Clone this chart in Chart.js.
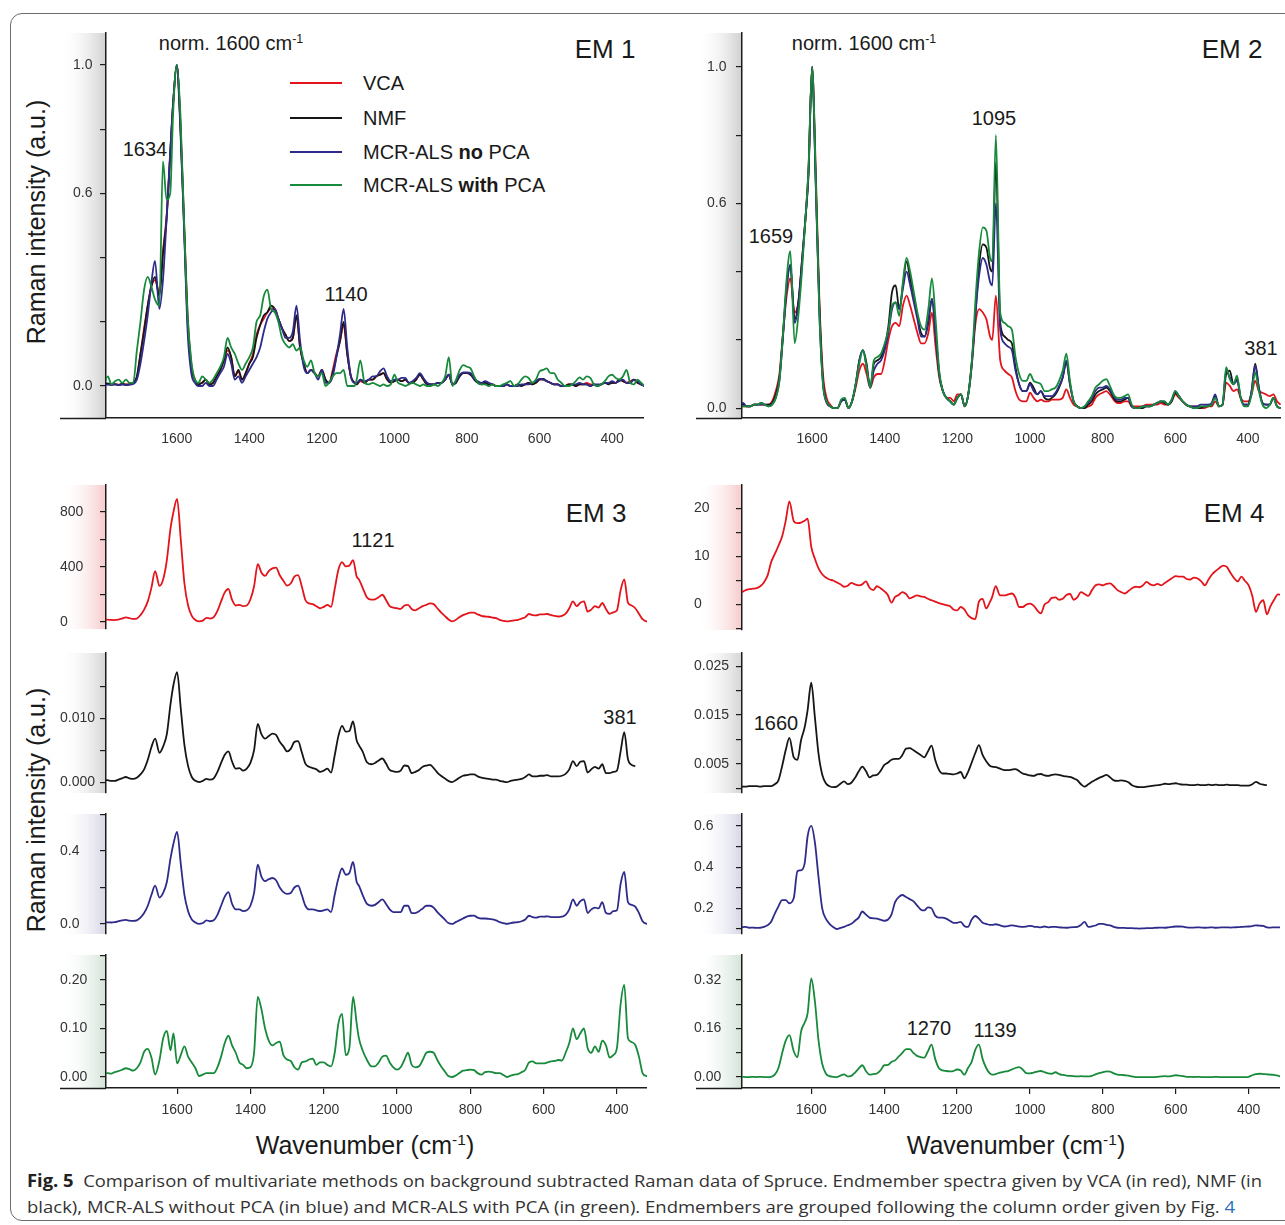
<!DOCTYPE html>
<html>
<head>
<meta charset="utf-8">
<title>Fig. 5 - endmember spectra</title>
<script src="https://cdn.jsdelivr.net/npm/chart.js@4.4.1/dist/chart.umd.min.js"></script>
<style>
  html, body { margin: 0; padding: 0; background: #fff; }
  body { position: relative; width: 1285px; height: 1225px; overflow: hidden;
         font-family: "Liberation Sans", Arial, sans-serif; color: #1a1a1a; }
  .frame { position: absolute; left: 10px; top: 13px; width: 1300px; height: 1208px;
           border: 1px solid #6b6b6b; border-radius: 12px; box-sizing: border-box; }
  canvas { position: absolute; }
  .lbl { position: absolute; white-space: nowrap; line-height: 1; transform: translate(-50%, -50%); }
  .lbl sup, .ytitle sup { font-size: 0.62em; vertical-align: 0.55em; line-height: 0; }
  .ytitle { position: absolute; white-space: nowrap; line-height: 1; font-size: 25px;
            transform: translate(-50%, -50%) rotate(-90deg); }
  .legend { position: absolute; left: 290px; top: 70px; font-size: 20px; }
  .legend div { position: absolute; left: 0; white-space: nowrap; height: 24px; }
  .legend i { position: absolute; left: 0; top: 11px; width: 52px; height: 2px; }
  .legend span { position: absolute; left: 73px; top: 0; line-height: 24px; }
  .caption { position: absolute; left: 27px; font-family: "Open Sans", sans-serif; font-size: 17px;
             color: #333; white-space: nowrap; transform-origin: 0 50%; line-height: 1; }
  .caption b { color: #222; }
  .caption a { color: #2a6ebb; text-decoration: none; }
</style>
</head>
<body>
<div class="frame"></div>

<!-- peak / panel annotations -->
<div class="lbl" style="left:231px;top:43px;font-size:20px">norm. 1600 cm<sup>-1</sup></div>
<div class="lbl" style="left:864px;top:43px;font-size:20px">norm. 1600 cm<sup>-1</sup></div>
<div class="lbl" style="left:605px;top:49px;font-size:26px">EM 1</div>
<div class="lbl" style="left:1232px;top:49px;font-size:26px">EM 2</div>
<div class="lbl" style="left:596px;top:513px;font-size:26px">EM 3</div>
<div class="lbl" style="left:1234px;top:513px;font-size:26px">EM 4</div>
<div class="lbl" style="left:145px;top:149px;font-size:20px">1634</div>
<div class="lbl" style="left:346px;top:294px;font-size:20px">1140</div>
<div class="lbl" style="left:771px;top:236px;font-size:20px">1659</div>
<div class="lbl" style="left:994px;top:118px;font-size:20px">1095</div>
<div class="lbl" style="left:1261px;top:348px;font-size:20px">381</div>
<div class="lbl" style="left:373px;top:540px;font-size:20px">1121</div>
<div class="lbl" style="left:620px;top:717px;font-size:20px">381</div>
<div class="lbl" style="left:776px;top:723px;font-size:20px">1660</div>
<div class="lbl" style="left:929px;top:1028px;font-size:20px">1270</div>
<div class="lbl" style="left:995px;top:1030px;font-size:20px">1139</div>

<div class="legend">
  <div style="top:1px"><i style="background:#e3141b"></i><span>VCA</span></div>
  <div style="top:36px"><i style="background:#161616"></i><span>NMF</span></div>
  <div style="top:70px"><i style="background:#2e2b8b"></i><span>MCR-ALS <b>no</b> PCA</span></div>
  <div style="top:103px"><i style="background:#178a3b"></i><span>MCR-ALS <b>with</b> PCA</span></div>
</div>

<div class="ytitle" style="left:36px;top:222px">Raman intensity (a.u.)</div>
<div class="ytitle" style="left:36px;top:810px">Raman intensity (a.u.)</div>
<div class="lbl" style="left:365px;top:1145px;font-size:25px">Wavenumber (cm<sup>-1</sup>)</div>
<div class="lbl" style="left:1016px;top:1145px;font-size:25px">Wavenumber (cm<sup>-1</sup>)</div>

<div class="caption" data-width="1235" style="top:1180px"><b>Fig. 5</b>&nbsp; Comparison of multivariate methods on background subtracted Raman data of Spruce. Endmember spectra given by VCA (in red), NMF (in</div>
<div class="caption" data-width="1208" style="top:1206px">black), MCR-ALS without PCA (in blue) and MCR-ALS with PCA (in green). Endmembers are grouped following the column order given by Fig. <a>4</a></div>

<script>
// wavenumber grid (cm-1), shared by every spectrum
const wavenumbers = [
  1800, 1790, 1780, 1770, 1760, 1750, 1740, 1730, 1720, 1710,
  1700, 1690, 1680, 1670, 1660, 1648, 1638, 1628, 1618, 1610,
  1600, 1590, 1580, 1570, 1560, 1550, 1540, 1530, 1520, 1510,
  1500, 1490, 1480, 1470, 1460, 1450, 1440, 1430, 1420, 1410,
  1400, 1390, 1380, 1370, 1360, 1350, 1340, 1330, 1320, 1310,
  1300, 1290, 1280, 1270, 1260, 1250, 1240, 1230, 1220, 1210,
  1200, 1190, 1180, 1170, 1160, 1150, 1140, 1130, 1120, 1110,
  1104, 1094, 1082, 1070, 1060, 1050, 1040, 1030, 1020, 1010,
  1000, 990, 980, 970, 960, 950, 940, 930, 920, 910,
  900, 890, 880, 870, 860, 850, 840, 830, 820, 810,
  800, 790, 780, 770, 760, 750, 740, 730, 720, 710,
  700, 690, 680, 670, 660, 650, 640, 630, 620, 610,
  600, 590, 580, 570, 560, 550, 540, 530, 520, 510,
  500, 490, 480, 470, 460, 450, 440, 430, 420, 410,
  400, 390, 380, 370, 360, 350, 340, 330, 320, 310
];

const xTickValues = [1600, 1400, 1200, 1000, 800, 600, 400];

// EM 1 (normalised to the 1600 band)
const em1Vca = [
  0.004, 0.006, 0.005, 0.005, 0.004, 0.006, 0.005, 0.006, 0.01, 0.025,
  0.10, 0.18, 0.25, 0.31, 0.33, 0.29, 0.42, 0.53, 0.72, 0.88,
  1.0, 0.82, 0.52, 0.22, 0.07, 0.02, 0.005, 0.01, 0.02, 0.005,
  0.01, 0.03, 0.05, 0.08, 0.11, 0.09, 0.03, 0.045, 0.02, 0.04,
  0.07, 0.10, 0.16, 0.19, 0.21, 0.23, 0.24, 0.24, 0.21, 0.18,
  0.16, 0.14, 0.15, 0.22, 0.12, 0.07, 0.04, 0.05, 0.04, 0.03,
  0.05, 0.02, 0.01, 0.05, 0.10, 0.14, 0.19, 0.10, 0.03, 0.01,
  0.005, 0.015, 0.01, 0.02, 0.02, 0.03, 0.035, 0.04, 0.02, 0.01,
  0.015, 0.02, 0.015, 0.02, 0.01, 0.01, 0.02, 0.035, 0.02, 0.005,
  0.005, 0.005, 0.01, 0.01, 0.02, 0.035, 0.005, 0.015, 0.035, 0.04,
  0.04, 0.035, 0.025, 0.01, 0.005, 0.01, 0.005, 0.005, 0.0, 0.0,
  0.0, 0.005, 0.0, 0.0, 0.005, 0.0, 0.005, 0.01, 0.005, 0.01,
  0.02, 0.02, 0.015, 0.01, 0.005, 0.005, 0.0, 0.0, 0.005, 0.005,
  0.0, 0.005, 0.005, 0.01, 0.005, 0.005, 0.0, 0.005, 0.01, 0.01,
  0.01, 0.01, 0.02, 0.015, 0.01, 0.015, 0.02, 0.01, 0.005, 0.0
];
const em1Nmf = [
  0.005, 0.008, 0.004, 0.006, 0.003, 0.007, 0.004, 0.005, 0.01, 0.03,
  0.10, 0.17, 0.25, 0.31, 0.34, 0.28, 0.41, 0.52, 0.72, 0.88,
  1.0, 0.80, 0.50, 0.20, 0.06, 0.02, 0.005, 0.01, 0.02, 0.005,
  0.01, 0.03, 0.05, 0.08, 0.12, 0.09, 0.03, 0.05, 0.02, 0.04,
  0.07, 0.09, 0.15, 0.19, 0.22, 0.23, 0.25, 0.24, 0.21, 0.18,
  0.16, 0.14, 0.15, 0.22, 0.12, 0.07, 0.04, 0.05, 0.04, 0.03,
  0.05, 0.02, 0.01, 0.04, 0.09, 0.14, 0.20, 0.10, 0.03, 0.01,
  0.005, 0.02, 0.01, 0.02, 0.02, 0.03, 0.035, 0.04, 0.02, 0.01,
  0.015, 0.02, 0.015, 0.02, 0.01, 0.01, 0.02, 0.035, 0.02, 0.005,
  0.005, 0.005, 0.01, 0.01, 0.02, 0.035, 0.005, 0.01, 0.03, 0.04,
  0.04, 0.035, 0.02, 0.01, 0.005, 0.01, 0.005, 0.005, 0.0, 0.0,
  0.0, 0.005, 0.0, 0.0, 0.005, 0.0, 0.005, 0.01, 0.005, 0.01,
  0.02, 0.022, 0.015, 0.01, 0.005, 0.005, 0.0, 0.0, 0.005, 0.005,
  0.0, 0.005, 0.005, 0.005, 0.0, 0.005, 0.0, 0.005, 0.01, 0.005,
  0.01, 0.01, 0.02, 0.015, 0.01, 0.01, 0.02, 0.01, 0.005, 0.0
];
const em1McrNoPca = [
  0.003, 0.004, 0.003, 0.005, 0.003, 0.004, 0.003, 0.004, 0.006, 0.02,
  0.07, 0.14, 0.22, 0.32, 0.39, 0.24, 0.33, 0.52, 0.73, 0.88,
  1.0, 0.82, 0.50, 0.17, 0.04, 0.01, 0.0, 0.0, 0.01, 0.0,
  0.0, 0.02, 0.04, 0.06, 0.10, 0.07, 0.02, 0.03, 0.01, 0.03,
  0.05, 0.07, 0.09, 0.12, 0.17, 0.21, 0.23, 0.24, 0.21, 0.18,
  0.15, 0.15, 0.17, 0.25, 0.14, 0.06, 0.04, 0.05, 0.04, 0.02,
  0.05, 0.01, 0.01, 0.03, 0.09, 0.16, 0.24, 0.12, 0.03, 0.01,
  0.01, 0.02, 0.015, 0.02, 0.03, 0.03, 0.045, 0.055, 0.03, 0.015,
  0.02, 0.02, 0.025, 0.025, 0.01, 0.015, 0.025, 0.04, 0.025, 0.01,
  0.005, 0.005, 0.01, 0.01, 0.02, 0.035, 0.005, 0.015, 0.035, 0.042,
  0.042, 0.04, 0.022, 0.015, 0.01, 0.015, 0.01, 0.005, 0.0, 0.0,
  0.0, 0.005, 0.0, 0.0, 0.0, 0.005, 0.005, 0.005, 0.01, 0.015,
  0.022, 0.02, 0.015, 0.01, 0.005, 0.005, 0.0, 0.0, 0.0, 0.005,
  0.005, 0.01, 0.005, 0.005, 0.0, 0.005, 0.005, 0.005, 0.01, 0.01,
  0.015, 0.01, 0.015, 0.02, 0.01, 0.01, 0.02, 0.015, 0.005, 0.0
];
const em1McrPca = [
  0.01, 0.03, 0.005, 0.015, 0.02, 0.01, 0.02, 0.01, 0.01, 0.11,
  0.20, 0.30, 0.34, 0.31, 0.27, 0.25, 0.70, 0.58, 0.60, 0.85,
  1.0, 0.85, 0.52, 0.22, 0.08, 0.02, 0.01, 0.03, 0.02, 0.01,
  0.02, 0.04, 0.06, 0.09, 0.15, 0.12, 0.10, 0.07, 0.05, 0.07,
  0.09, 0.12, 0.20, 0.22, 0.28, 0.30, 0.24, 0.23, 0.20, 0.15,
  0.13, 0.12, 0.13, 0.11, 0.12, 0.08, 0.06, 0.08, 0.04, 0.03,
  0.04, 0.0, 0.01, 0.03, 0.04, 0.04, 0.05, 0.0, 0.0, 0.0,
  0.02, 0.08, 0.01, 0.005, 0.01, 0.005, 0.0, 0.005, 0.0, 0.005,
  0.035, 0.01, 0.005, 0.0, 0.005, 0.01, 0.005, 0.0, 0.005, 0.0,
  0.0, 0.005, 0.0, 0.01, 0.03, 0.09, 0.0, 0.02, 0.05, 0.065,
  0.06, 0.055, 0.03, 0.01, 0.005, 0.005, 0.0, 0.005, 0.0, 0.0,
  0.005, 0.01, 0.015, 0.0, 0.005, 0.02, 0.03, 0.025, 0.01, 0.02,
  0.045, 0.05, 0.055, 0.04, 0.04, 0.02, 0.01, 0.0, 0.0, 0.005,
  0.015, 0.027, 0.02, 0.03, 0.025, 0.005, 0.0, 0.005, 0.015, 0.03,
  0.035, 0.025, 0.02, 0.03, 0.05, 0.01, 0.005, 0.02, 0.01, 0.0
];

// EM 2 (normalised to the 1600 band)
const em2Vca = [
  0.005, 0.005, 0.005, 0.005, 0.01, 0.01, 0.01, 0.01, 0.01, 0.02,
  0.05, 0.10, 0.22, 0.33, 0.38, 0.28, 0.31, 0.43, 0.56, 0.70,
  1.0, 0.70, 0.32, 0.10, 0.03, 0.01, 0.0, 0.0, 0.02, 0.025,
  0.0, 0.02, 0.06, 0.11, 0.13, 0.10, 0.06, 0.09, 0.10, 0.10,
  0.14, 0.20, 0.24, 0.25, 0.24, 0.30, 0.33, 0.30, 0.26, 0.22,
  0.19, 0.19, 0.22, 0.28, 0.18, 0.09, 0.05, 0.03, 0.03, 0.02,
  0.04, 0.04, 0.005, 0.04, 0.13, 0.25, 0.29, 0.28, 0.26, 0.21,
  0.20, 0.33, 0.14, 0.11, 0.10, 0.09, 0.05, 0.025, 0.02, 0.02,
  0.045, 0.03, 0.02, 0.025, 0.02, 0.02, 0.025, 0.025, 0.025, 0.03,
  0.055, 0.03, 0.01, 0.005, 0.0, 0.0, 0.005, 0.01, 0.03, 0.04,
  0.045, 0.05, 0.04, 0.025, 0.015, 0.015, 0.02, 0.02, 0.005, 0.005,
  0.005, 0.005, 0.01, 0.01, 0.01, 0.01, 0.015, 0.01, 0.01, 0.02,
  0.04, 0.03, 0.02, 0.01, 0.005, 0.005, 0.005, 0.0, 0.0, 0.005,
  0.005, 0.02, 0.005, 0.01, 0.075, 0.065, 0.05, 0.055, 0.03, 0.02,
  0.02, 0.04, 0.08, 0.05, 0.045, 0.04, 0.035, 0.04, 0.02, 0.01
];
const em2Nmf = [
  0.005, 0.01, 0.005, 0.005, 0.01, 0.01, 0.015, 0.01, 0.01, 0.015,
  0.04, 0.09, 0.22, 0.36, 0.42, 0.26, 0.31, 0.43, 0.56, 0.68,
  1.0, 0.66, 0.30, 0.08, 0.02, 0.005, 0.0, 0.0, 0.02, 0.025,
  0.0, 0.02, 0.07, 0.14, 0.17, 0.13, 0.06, 0.13, 0.14, 0.15,
  0.18, 0.24, 0.34, 0.36, 0.29, 0.36, 0.43, 0.38, 0.33, 0.27,
  0.22, 0.21, 0.25, 0.32, 0.22, 0.10, 0.05, 0.03, 0.02, 0.01,
  0.03, 0.04, 0.005, 0.04, 0.14, 0.28, 0.42, 0.48, 0.47, 0.41,
  0.40, 0.72, 0.25, 0.21, 0.20, 0.19, 0.12, 0.07, 0.05, 0.05,
  0.075, 0.06, 0.04, 0.05, 0.03, 0.025, 0.03, 0.04, 0.06, 0.09,
  0.135, 0.07, 0.02, 0.005, 0.0, 0.0, 0.01, 0.02, 0.04, 0.05,
  0.055, 0.06, 0.05, 0.03, 0.02, 0.02, 0.025, 0.03, 0.005, 0.0,
  0.0, 0.0, 0.005, 0.005, 0.01, 0.015, 0.02, 0.015, 0.01, 0.02,
  0.045, 0.035, 0.02, 0.01, 0.005, 0.0, 0.0, 0.0, 0.005, 0.005,
  0.01, 0.035, 0.005, 0.01, 0.10, 0.11, 0.07, 0.085, 0.03, 0.01,
  0.01, 0.05, 0.13, 0.06, 0.015, 0.01, 0.01, 0.03, 0.005, 0.0
];
const em2McrNoPca = [
  0.005, 0.015, 0.005, 0.005, 0.01, 0.01, 0.01, 0.01, 0.005, 0.01,
  0.03, 0.08, 0.21, 0.35, 0.42, 0.25, 0.30, 0.42, 0.56, 0.69,
  1.0, 0.66, 0.28, 0.07, 0.015, 0.005, 0.0, 0.0, 0.02, 0.025,
  0.0, 0.02, 0.07, 0.14, 0.17, 0.12, 0.06, 0.11, 0.13, 0.14,
  0.17, 0.22, 0.29, 0.31, 0.29, 0.35, 0.40, 0.36, 0.31, 0.26,
  0.21, 0.21, 0.26, 0.32, 0.22, 0.10, 0.05, 0.03, 0.02, 0.01,
  0.03, 0.04, 0.005, 0.04, 0.13, 0.28, 0.39, 0.44, 0.42, 0.37,
  0.36, 0.60, 0.23, 0.19, 0.18, 0.17, 0.11, 0.07, 0.05, 0.05,
  0.07, 0.05, 0.04, 0.05, 0.035, 0.035, 0.035, 0.045, 0.065, 0.09,
  0.14, 0.07, 0.02, 0.005, 0.0, 0.005, 0.015, 0.03, 0.05, 0.06,
  0.06, 0.065, 0.055, 0.035, 0.025, 0.025, 0.03, 0.03, 0.005, 0.0,
  0.0, 0.005, 0.005, 0.005, 0.01, 0.015, 0.02, 0.02, 0.01, 0.025,
  0.05, 0.035, 0.02, 0.01, 0.005, 0.005, 0.005, 0.01, 0.01, 0.01,
  0.015, 0.04, 0.005, 0.01, 0.11, 0.09, 0.07, 0.08, 0.03, 0.01,
  0.01, 0.05, 0.125, 0.06, 0.015, 0.01, 0.01, 0.03, 0.005, 0.0
];
const em2McrPca = [
  0.005, 0.005, 0.005, 0.005, 0.01, 0.01, 0.015, 0.01, 0.005, 0.01,
  0.03, 0.08, 0.22, 0.38, 0.46, 0.19, 0.27, 0.40, 0.56, 0.70,
  1.0, 0.68, 0.28, 0.07, 0.02, 0.005, 0.0, 0.0, 0.025, 0.03,
  0.0, 0.02, 0.07, 0.13, 0.17, 0.12, 0.06, 0.14, 0.15, 0.16,
  0.19, 0.23, 0.30, 0.31, 0.27, 0.37, 0.44, 0.40, 0.34, 0.28,
  0.24, 0.23, 0.29, 0.38, 0.26, 0.11, 0.05, 0.03, 0.02, 0.01,
  0.03, 0.04, 0.005, 0.04, 0.14, 0.32, 0.46, 0.53, 0.52, 0.44,
  0.43, 0.80, 0.28, 0.25, 0.24, 0.23, 0.15, 0.10, 0.08, 0.08,
  0.10, 0.08, 0.075, 0.07, 0.05, 0.05, 0.055, 0.06, 0.08, 0.11,
  0.16, 0.08, 0.02, 0.005, 0.0, 0.005, 0.02, 0.035, 0.06, 0.07,
  0.08, 0.085, 0.065, 0.04, 0.03, 0.03, 0.035, 0.04, 0.01, 0.0,
  0.0, 0.005, 0.005, 0.005, 0.01, 0.015, 0.02, 0.02, 0.01, 0.025,
  0.05, 0.035, 0.02, 0.01, 0.005, 0.0, 0.0, 0.005, 0.005, 0.005,
  0.01, 0.03, 0.005, 0.01, 0.12, 0.085, 0.07, 0.095, 0.03, 0.005,
  0.005, 0.04, 0.105, 0.05, 0.01, 0.0, 0.01, 0.03, 0.005, 0.0
];

// EM 3 (raw scale of each method)
const em3Vca = [
  18, 17, 15, 14, 18, 25, 33, 28, 22, 25,
  50, 90, 150, 250, 370, 262, 310, 450, 680, 800,
  895, 600, 280, 120, 45, 15, 5, 10, 30, 25,
  35, 80, 150, 215, 240, 160, 120, 125, 115, 120,
  165, 260, 420, 360, 335, 370, 390, 395, 340, 300,
  265, 280, 330, 340, 260, 160, 135, 130, 115, 100,
  110, 125, 110, 240, 380, 435, 405, 410, 450, 330,
  310, 250, 178, 162, 165, 180, 198, 160, 115, 105,
  100, 95, 120, 125, 95, 85, 100, 115, 125, 135,
  130, 100, 70, 45, 20, 5, 15, 35, 50, 60,
  68, 68, 55, 45, 40, 38, 32, 28, 15, 8,
  5, 8, 12, 15, 25, 35, 58, 50, 48, 55,
  55, 58, 50, 45, 40, 45, 60, 100, 150, 115,
  140, 150, 75, 90, 115, 105, 138, 95, 60, 70,
  85, 230, 310, 140, 120, 100, 60, 20, 5, 3
];
const em3Nmf = [
  0.0003, 0.0003, 0.0002, 0.0002, 0.0004, 0.0006, 0.0008, 0.0006, 0.0005, 0.0007,
  0.0012, 0.002, 0.0035, 0.0055, 0.0068, 0.0046, 0.0056, 0.0075, 0.0122, 0.0152,
  0.0172, 0.0115, 0.0058, 0.0025, 0.0008, 0.0002, 0.0, 0.0002, 0.0005, 0.0004,
  0.0006, 0.0016, 0.003, 0.0043, 0.0048, 0.0032, 0.0021, 0.0022, 0.0018, 0.0021,
  0.003, 0.005, 0.0091, 0.0075, 0.0068, 0.0072, 0.0076, 0.0074, 0.0063, 0.0056,
  0.0048, 0.0052, 0.0063, 0.0064, 0.0047, 0.0029, 0.0024, 0.0022, 0.002, 0.0016,
  0.0018, 0.0021, 0.0015, 0.0042, 0.0072, 0.0088, 0.0079, 0.008, 0.0095, 0.0065,
  0.0058, 0.0048, 0.0031, 0.0028, 0.003, 0.0034, 0.0037, 0.0029, 0.0019, 0.0017,
  0.0016, 0.0018, 0.0026, 0.0025, 0.0014, 0.0016, 0.0019, 0.0024, 0.0026, 0.0027,
  0.0022, 0.0015, 0.001, 0.0006, 0.0002, 0.0, 0.0003, 0.0007, 0.001, 0.0011,
  0.0012, 0.0012, 0.0009, 0.0007, 0.0006, 0.0005, 0.0004, 0.0004, 0.0002, 0.0001,
  0.0, 0.0002, 0.0003, 0.0004, 0.0005, 0.0008, 0.0012, 0.0009, 0.0009, 0.001,
  0.001, 0.0011, 0.0009, 0.0009, 0.0009, 0.001, 0.0013, 0.002, 0.0033, 0.0025,
  0.0032, 0.0033, 0.0015, 0.002, 0.0024, 0.0021, 0.0028, 0.0014, 0.0014, 0.0016,
  0.0018, 0.0048, 0.0078, 0.0036, 0.0027, 0.0025, null, null, null, null
];
const em3McrNoPca = [
  0.008, 0.009, 0.008, 0.01, 0.015, 0.02, 0.022, 0.018, 0.017, 0.02,
  0.035, 0.06, 0.10, 0.16, 0.21, 0.145, 0.17, 0.23, 0.36, 0.44,
  0.505, 0.33, 0.16, 0.07, 0.025, 0.008, 0.0, 0.005, 0.02, 0.015,
  0.02, 0.05, 0.10, 0.15, 0.175, 0.11, 0.08, 0.08, 0.07, 0.075,
  0.10, 0.17, 0.325, 0.26, 0.235, 0.245, 0.252, 0.24, 0.20, 0.175,
  0.165, 0.17, 0.20, 0.21, 0.16, 0.10, 0.08, 0.08, 0.075, 0.07,
  0.075, 0.08, 0.065, 0.16, 0.25, 0.305, 0.27, 0.28, 0.34, 0.23,
  0.21, 0.16, 0.11, 0.10, 0.105, 0.12, 0.135, 0.11, 0.08, 0.065,
  0.065, 0.065, 0.10, 0.10, 0.06, 0.06, 0.07, 0.085, 0.10, 0.10,
  0.09, 0.065, 0.045, 0.025, 0.005, 0.0, 0.01, 0.02, 0.03, 0.04,
  0.045, 0.046, 0.035, 0.03, 0.03, 0.028, 0.025, 0.02, 0.01, 0.005,
  0.0, 0.005, 0.008, 0.01, 0.015, 0.025, 0.045, 0.038, 0.035, 0.04,
  0.04, 0.042, 0.038, 0.038, 0.038, 0.04, 0.05, 0.08, 0.135, 0.10,
  0.125, 0.135, 0.06, 0.08, 0.09, 0.085, 0.12, 0.06, 0.055, 0.07,
  0.075, 0.22, 0.285, 0.12, 0.105, 0.095, 0.06, 0.015, 0.002, 0.0
];
const em3McrPca = [
  0.008, 0.008, 0.007, 0.01, 0.012, 0.015, 0.018, 0.016, 0.013, 0.018,
  0.03, 0.052, 0.058, 0.04, 0.005, 0.035, 0.08, 0.095, 0.055, 0.09,
  0.028, 0.045, 0.063, 0.042, 0.03, 0.018, 0.002, 0.005, 0.008, 0.008,
  0.008, 0.02, 0.042, 0.07, 0.085, 0.065, 0.05, 0.03, 0.025, 0.018,
  0.02, 0.05, 0.165, 0.14, 0.10, 0.075, 0.065, 0.07, 0.073, 0.045,
  0.036, 0.033, 0.02, 0.015, 0.03, 0.032, 0.036, 0.038, 0.025, 0.03,
  0.03, 0.025, 0.022, 0.05, 0.11, 0.13, 0.045, 0.06, 0.165, 0.11,
  0.08, 0.055, 0.035, 0.022, 0.022, 0.03, 0.042, 0.044, 0.03, 0.02,
  0.015, 0.02, 0.035, 0.05, 0.025, 0.02, 0.022, 0.035, 0.05, 0.052,
  0.05, 0.035, 0.022, 0.012, 0.002, 0.0, 0.003, 0.008, 0.013, 0.014,
  0.015, 0.014, 0.008, 0.005, 0.01, 0.011, 0.01, 0.008, 0.008, 0.004,
  0.0, 0.003, 0.005, 0.006, 0.01, 0.015, 0.03, 0.032, 0.028, 0.028,
  0.028, 0.03, 0.032, 0.033, 0.035, 0.034, 0.05, 0.07, 0.10, 0.078,
  0.09, 0.10, 0.06, 0.05, 0.063, 0.052, 0.075, 0.065, 0.04, 0.045,
  0.06, 0.15, 0.19, 0.08, 0.072, 0.066, 0.042, 0.008, 0.002, 0.0
];

// EM 4 (raw scale of each method)
const em4Vca = [
  2.5, 2.6, 3.0, 3.2, 3.3, 3.4, 3.8, 4.6, 6.0, 8.8,
  10.5, 12.2, 14.1, 17.4, 21.4, 17.3, 16.9, 17.0, 17.4, 17.8,
  12.0, 9.5, 7.5, 6.3, 5.6, 5.2, 5.0, 4.6, 4.2, 3.7,
  3.9, 4.5, 4.2, 4.0, 4.2, 4.8, 3.5, 3.0, 3.8, 3.4,
  2.8, 2.0, 0.4, 1.6, 2.0, 2.6, 2.2, 1.3, 1.6, 1.9,
  1.7, 1.6, 1.2, 0.9, 0.6, 0.3, 0.1, -0.1, -0.3, -1.0,
  -1.2, -0.5, -1.0, -2.2, -2.8, -3.0, 0.6, 1.2, -0.8, 0.5,
  1.5, 3.8, 1.9, 1.9, 2.1, 2.3, 1.5, -0.5, -0.5, 0.0,
  0.2, -0.2, -1.2, -1.8, 0.0, 0.5, 1.4, 1.5, 1.0, 1.2,
  2.0, 2.2, 1.0, 1.5, 2.6, 2.2, 1.8, 3.0, 4.0, 4.2,
  4.0, 4.3, 4.4, 3.8, 3.0, 2.6, 2.3, 2.8, 3.4, 3.7,
  3.6, 4.0, 4.7, 4.2, 4.0, 4.3, 4.0, 4.5, 5.0, 5.5,
  5.9, 5.8, 5.8, 5.3, 5.2, 5.6, 5.4, 4.8, 4.0, 5.2,
  6.3, 7.0, 7.6, 8.1, 7.8, 6.6, 5.5, 4.8, 5.8, 4.9,
  4.0, 1.8, -1.5, 0.2, 0.9, -2.0, -0.3, 1.0, 2.1, 2.0
];
const em4Nmf = [
  0.0003, 0.0003, 0.0003, 0.0004, 0.0004, 0.0004, 0.0003, 0.0004, 0.0004, 0.0004,
  0.0008, 0.0016, 0.0045, 0.0078, 0.0103, 0.0063, 0.0058, 0.0098, 0.0125, 0.016,
  0.0216, 0.0145, 0.007, 0.0028, 0.001, 0.0004, 0.0002, 0.0003, 0.0009, 0.0014,
  0.0008, 0.0011, 0.0021, 0.0034, 0.0044, 0.0035, 0.0022, 0.0026, 0.0027, 0.0035,
  0.0047, 0.0052, 0.0058, 0.006, 0.006, 0.0068, 0.0081, 0.0082, 0.0078, 0.0073,
  0.0068, 0.0063, 0.0075, 0.0087, 0.0058, 0.0038, 0.003, 0.003, 0.0029, 0.0028,
  0.003, 0.0033, 0.002, 0.0033, 0.0052, 0.0072, 0.0088, 0.0068, 0.0055, 0.0046,
  0.0044, 0.0043, 0.004, 0.0037, 0.0037, 0.0038, 0.0039, 0.0035, 0.003, 0.0028,
  0.0026, 0.0025, 0.0028, 0.0029, 0.0026, 0.0025, 0.0027, 0.0028, 0.0027, 0.0025,
  0.0024, 0.0023, 0.002, 0.0016, 0.0008, 0.0003, 0.0008, 0.0013, 0.0017, 0.0021,
  0.0024, 0.0027, 0.0022, 0.0016, 0.0015, 0.0016, 0.0015, 0.0012, 0.0006, 0.0003,
  0.0002, 0.0002, 0.0003, 0.0004, 0.0005, 0.0006, 0.0007, 0.0009, 0.0008, 0.0009,
  0.001, 0.0008, 0.0007, 0.0007, 0.0006, 0.0006, 0.0007, 0.0006, 0.0006, 0.0007,
  0.0006, 0.0007, 0.0006, 0.0006, 0.0007, 0.0006, 0.0006, 0.0006, 0.0005, 0.0005,
  0.0005, 0.0008, 0.0013, 0.0009, 0.0007, 0.0006, null, null, null, null
];
const em4McrNoPca = [
  0.105, 0.108, 0.11, 0.106, 0.107, 0.105, 0.106, 0.11, 0.118, 0.135,
  0.175, 0.21, 0.24, 0.24, 0.225, 0.25, 0.38, 0.385, 0.42, 0.55,
  0.60, 0.52, 0.35, 0.20, 0.15, 0.125, 0.11, 0.10, 0.105, 0.11,
  0.118, 0.125, 0.14, 0.155, 0.185, 0.17, 0.155, 0.152, 0.15, 0.145,
  0.14, 0.145, 0.17, 0.23, 0.255, 0.265, 0.255, 0.245, 0.235, 0.215,
  0.195, 0.19, 0.205, 0.20, 0.165, 0.155, 0.155, 0.15, 0.14, 0.13,
  0.13, 0.135, 0.115, 0.11, 0.145, 0.163, 0.15, 0.13, 0.125, 0.12,
  0.12, 0.123, 0.118, 0.112, 0.114, 0.118, 0.115, 0.112, 0.11, 0.112,
  0.115, 0.112, 0.11, 0.108, 0.112, 0.108, 0.11, 0.11, 0.108, 0.107,
  0.106, 0.108, 0.109, 0.11, 0.12, 0.135, 0.11, 0.113, 0.117, 0.125,
  0.125, 0.12, 0.118, 0.11, 0.106, 0.105, 0.105, 0.104, 0.104, 0.103,
  0.102, 0.103, 0.104, 0.104, 0.105, 0.106, 0.107, 0.106, 0.108, 0.11,
  0.112, 0.112, 0.111, 0.108, 0.107, 0.107, 0.108, 0.107, 0.106, 0.107,
  0.108, 0.106, 0.107, 0.108, 0.108, 0.107, 0.108, 0.109, 0.11, 0.111,
  0.112, 0.114, 0.118, 0.116, 0.115, 0.108, 0.107, 0.108, 0.108, 0.108
];
const em4McrPca = [
  0.0, 0.001, 0.0, 0.0, 0.001, 0.0, 0.001, 0.0, 0.0, 0.001,
  0.008, 0.03, 0.078, 0.12, 0.138, 0.085, 0.065, 0.15, 0.18, 0.21,
  0.325, 0.25, 0.12, 0.044, 0.012, 0.003, 0.001, 0.0, 0.005, 0.009,
  0.002, 0.004, 0.015, 0.028, 0.039, 0.02, 0.008, 0.01, 0.012, 0.022,
  0.039, 0.04, 0.05, 0.055, 0.068, 0.08, 0.092, 0.092, 0.08, 0.07,
  0.066, 0.064, 0.085, 0.107, 0.06, 0.03, 0.022, 0.02, 0.019, 0.02,
  0.025, 0.022, 0.008, 0.03, 0.05, 0.09, 0.107, 0.06, 0.03, 0.012,
  0.008, 0.01, 0.015, 0.018, 0.02, 0.025, 0.03, 0.033, 0.025, 0.013,
  0.012, 0.015, 0.018, 0.02, 0.016, 0.012, 0.011, 0.016, 0.01, 0.007,
  0.005, 0.004, 0.003, 0.002, 0.003, 0.002, 0.002, 0.004, 0.009, 0.013,
  0.016, 0.019, 0.018, 0.012, 0.008, 0.007, 0.006, 0.005, 0.002, 0.0,
  0.0, 0.0, 0.0, 0.0, 0.0, 0.001, 0.002, 0.003, 0.002, 0.004,
  0.006, 0.005, 0.003, 0.001, 0.001, 0.0, 0.001, 0.0, 0.0, 0.0,
  0.0, 0.001, 0.0, 0.0, 0.0, 0.0, 0.0, 0.0, 0.0, 0.0,
  0.001, 0.006, 0.01, 0.011, 0.01, 0.009, 0.008, 0.007, 0.005, 0.0
];

// y tick values and the labels printed next to them
const normTicks = [0, 0.2, 0.4, 0.6, 0.8, 1.0];
const normLabels = ['0.0', '', '', '0.6', '', '1.0'];
const em3VcaTicks = [0, 200, 400, 600, 800];
const em3VcaLabels = ['0', '', '400', '', '800'];
const em3NmfTicks = [0, 0.005, 0.01, 0.015];
const em3NmfLabels = ['0.000', '', '0.010', ''];
const em3NoPcaTicks = [0, 0.2, 0.4, 0.6];
const em3NoPcaLabels = ['0.0', '', '0.4', ''];
const em3PcaTicks = [0, 0.05, 0.1, 0.15, 0.2, 0.25];
const em3PcaLabels = ['0.00', '', '0.10', '', '0.20', ''];
const em4VcaTicks = [-5, 0, 5, 10, 15, 20];
const em4VcaLabels = ['', '0', '', '10', '', '20'];
const em4NmfTicks = [0, 0.005, 0.01, 0.015, 0.02, 0.025];
const em4NmfLabels = ['', '0.005', '', '0.015', '', '0.025'];
const em4NoPcaTicks = [0.1, 0.2, 0.3, 0.4, 0.5, 0.6];
const em4NoPcaLabels = ['', '0.2', '', '0.4', '', '0.6'];
const em4PcaTicks = [0, 0.08, 0.16, 0.24, 0.32];
const em4PcaLabels = ['0.00', '', '0.16', '', '0.32'];

const COLORS = { vca: '#e3141b', nmf: '#161616', noPca: '#2e2b8b', pca: '#178a3b' };
const AXIS_COLOR = '#1c1c1c';
const TICK_FONT = { family: '"Liberation Sans", Arial, sans-serif', size: 14 };

// gray/colored fade behind the y tick labels, plus the x axis line running past the y axis
const axisDecor = {
  id: 'axisDecor',
  beforeDraw(chart, args, opts) {
    const { ctx, chartArea: a } = chart;
    const x0 = a.left - opts.reach;
    const g = ctx.createLinearGradient(x0, 0, a.left, 0);
    g.addColorStop(0, 'rgba(255,255,255,0)');
    g.addColorStop(1, opts.shade);
    ctx.save();
    ctx.fillStyle = g;
    ctx.fillRect(x0, a.top, opts.reach, a.bottom - a.top);
    ctx.restore();
  },
  afterDraw(chart, args, opts) {
    if (!opts.showX) return;
    const { ctx, chartArea: a } = chart;
    ctx.save();
    ctx.strokeStyle = AXIS_COLOR;
    ctx.lineWidth = 1.5;
    ctx.beginPath();
    ctx.moveTo(a.left - opts.reach, a.bottom + 0.5);
    ctx.lineTo(a.left, a.bottom + 0.5);
    ctx.stroke();
    ctx.restore();
  }
};

// panel layout: axis box in page pixels
const LEFT_COL = { canvasLeft: 55, axisX: 106 };
const RIGHT_COL = { canvasLeft: 690, axisX: 742 };

const panels = [
  { col: LEFT_COL, labelLeft: 73, right: 644, top: 33, bottom: 418, xMin: 312, xMax: 1795,
    showX: true, xMarks: false, yMin: -0.0997, yMax: 1.0997, ticks: normTicks, labels: normLabels, shade: '#cfcfcf',
    series: [[em1Vca, COLORS.vca], [em1Nmf, COLORS.nmf], [em1McrNoPca, COLORS.noPca], [em1McrPca, COLORS.pca]] },
  { col: RIGHT_COL, labelLeft: 707, right: 1281, top: 33, bottom: 418, xMin: 309, xMax: 1793,
    showX: true, xMarks: false, yMin: -0.029, yMax: 1.0997, ticks: normTicks, labels: normLabels, shade: '#cfcfcf',
    series: [[em2Vca, COLORS.vca], [em2Nmf, COLORS.nmf], [em2McrNoPca, COLORS.noPca], [em2McrPca, COLORS.pca]] },

  { col: LEFT_COL, labelLeft: 60, right: 647, top: 485, bottom: 629, xMin: 318, xMax: 1794,
    showX: false, yMin: -51, yMax: 996, ticks: em3VcaTicks, labels: em3VcaLabels, shade: '#f6c9c9',
    series: [[em3Vca, COLORS.vca]] },
  { col: LEFT_COL, labelLeft: 60, right: 647, top: 653, bottom: 793, xMin: 318, xMax: 1794,
    showX: false, yMin: -0.0017, yMax: 0.0202, ticks: em3NmfTicks, labels: em3NmfLabels, shade: '#d3d3d3',
    series: [[em3Nmf, COLORS.nmf]] },
  { col: LEFT_COL, labelLeft: 60, right: 647, top: 814, bottom: 934, xMin: 318, xMax: 1794,
    showX: false, yMin: -0.055, yMax: 0.603, ticks: em3NoPcaTicks, labels: em3NoPcaLabels, shade: '#d6d6e6',
    series: [[em3McrNoPca, COLORS.noPca]] },
  { col: LEFT_COL, labelLeft: 60, right: 647, top: 955, bottom: 1088, xMin: 318, xMax: 1794,
    showX: true, xMarks: true, yMin: -0.0227, yMax: 0.2515, ticks: em3PcaTicks, labels: em3PcaLabels, shade: '#d2e3d7',
    series: [[em3McrPca, COLORS.pca]] },

  { col: RIGHT_COL, labelLeft: 694, right: 1280, top: 485, bottom: 630, xMin: 314, xMax: 1790,
    showX: false, yMin: -5.27, yMax: 24.8, ticks: em4VcaTicks, labels: em4VcaLabels, shade: '#f6c9c9',
    series: [[em4Vca, COLORS.vca]] },
  { col: RIGHT_COL, labelLeft: 694, right: 1280, top: 653, bottom: 793, xMin: 314, xMax: 1790,
    showX: false, yMin: -0.001, yMax: 0.0277, ticks: em4NmfTicks, labels: em4NmfLabels, shade: '#d3d3d3',
    series: [[em4Nmf, COLORS.nmf]] },
  { col: RIGHT_COL, labelLeft: 694, right: 1280, top: 814, bottom: 934, xMin: 314, xMax: 1790,
    showX: false, yMin: 0.0757, yMax: 0.658, ticks: em4NoPcaTicks, labels: em4NoPcaLabels, shade: '#d6d6e6',
    series: [[em4McrNoPca, COLORS.noPca]] },
  { col: RIGHT_COL, labelLeft: 694, right: 1280, top: 955, bottom: 1088, xMin: 314, xMax: 1790,
    showX: true, xMarks: true, yMin: -0.036, yMax: 0.4025, ticks: em4PcaTicks, labels: em4PcaLabels, shade: '#d2e3d7',
    series: [[em4McrPca, COLORS.pca]] }
];

function buildPanel(p) {
  const X_HEIGHT = 40;
  const padTop = 12;
  const padBottom = p.showX ? 0 : 8;
  const canvasTop = p.top - padTop;
  const width = p.right - p.col.canvasLeft;
  const height = p.bottom - canvasTop + (p.showX ? X_HEIGHT : padBottom);

  const canvas = document.createElement('canvas');
  canvas.width = width;
  canvas.height = height;
  canvas.style.left = p.col.canvasLeft + 'px';
  canvas.style.top = canvasTop + 'px';
  canvas.style.width = width + 'px';
  canvas.style.height = height + 'px';
  document.body.appendChild(canvas);

  const n = p.series.length;
  const datasets = p.series.map(([values, color], k) => ({
    data: wavenumbers.map((x, i) => ({ x, y: values[i] })),
    borderColor: color,
    borderWidth: 1.8,
    pointRadius: 0,
    fill: false,
    cubicInterpolationMode: 'monotone',
    spanGaps: false,
    order: n - k   // last series (MCR-ALS with PCA) ends up on top
  }));

  return new Chart(canvas, {
    type: 'line',
    data: { datasets },
    plugins: [axisDecor],
    options: {
      responsive: false,
      animation: false,
      events: [],
      layout: {
        autoPadding: false,
        padding: { left: p.labelLeft - p.col.canvasLeft, top: padTop, right: 0, bottom: padBottom }
      },
      plugins: {
        legend: { display: false },
        tooltip: { enabled: false },
        axisDecor: { shade: p.shade, reach: 46, showX: p.showX }
      },
      scales: {
        x: {
          type: 'linear',
          reverse: true,
          min: p.xMin,
          max: p.xMax,
          display: p.showX,
          afterBuildTicks: s => { s.ticks = xTickValues.map(v => ({ value: v })); },
          afterFit: s => {
            if (p.showX) s.height = X_HEIGHT;
            s.paddingLeft = 0;
            s.paddingRight = 0;
          },
          ticks: {
            callback: v => String(v),
            autoSkip: false,
            maxRotation: 0,
            padding: p.xMarks ? 8 : 13,
            color: '#333',
            font: TICK_FONT
          },
          grid: { drawOnChartArea: false, drawTicks: !!p.xMarks, tickLength: 6, color: AXIS_COLOR, lineWidth: 1.2 },
          border: { color: AXIS_COLOR, width: 1.5 }
        },
        y: {
          min: p.yMin,
          max: p.yMax,
          afterBuildTicks: s => { s.ticks = p.ticks.map(v => ({ value: v })); },
          afterFit: s => {
            s.width = p.col.axisX - p.labelLeft;
            s.paddingTop = 0;
            s.paddingBottom = 0;
          },
          ticks: {
            callback: (v, i) => p.labels[i],
            autoSkip: false,
            crossAlign: 'far',
            padding: 3,
            color: '#333',
            font: TICK_FONT
          },
          grid: { drawOnChartArea: false, drawTicks: true, tickLength: 6, color: AXIS_COLOR, lineWidth: 1.2 },
          border: { color: AXIS_COLOR, width: 1.5 }
        }
      }
    }
  });
}

panels.forEach(buildPanel);

// stretch the two caption lines to the width they take in the figure
function fitCaption() {
  document.querySelectorAll('.caption').forEach(el => {
    el.style.transform = 'translateY(-50%)';
    const k = Number(el.dataset.width) / el.getBoundingClientRect().width;
    el.style.transform = 'translateY(-50%) scaleX(' + k.toFixed(4) + ')';
  });
}
fitCaption();
if (document.fonts && document.fonts.ready) document.fonts.ready.then(fitCaption);
</script>
</body>
</html>
